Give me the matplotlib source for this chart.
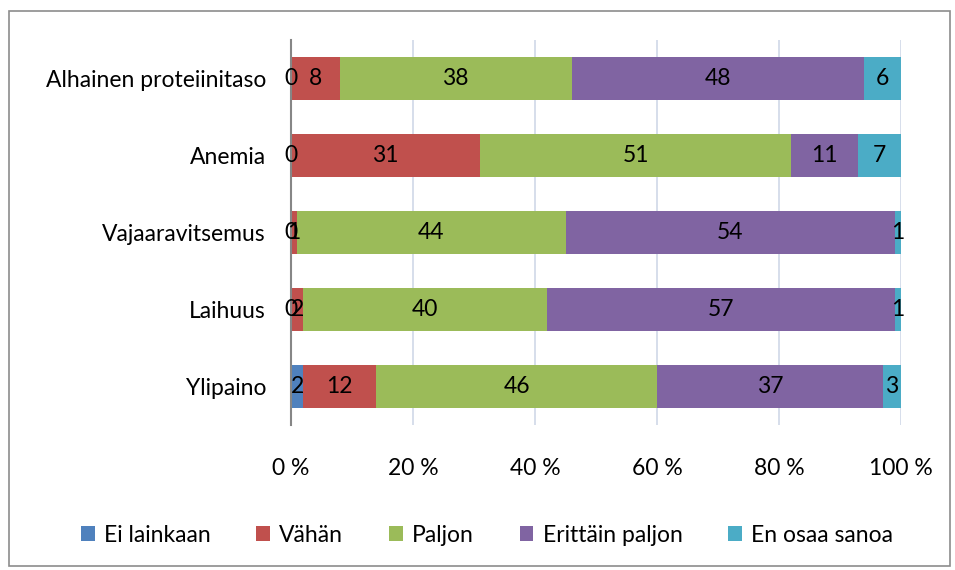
import matplotlib
matplotlib.use("Agg")
import matplotlib.pyplot as plt
from matplotlib.patches import Rectangle
import numpy as np

categories = ["Alhainen proteiinitaso", "Anemia", "Vajaaravitsemus", "Laihuus", "Ylipaino"]
series = ["Ei lainkaan", "Vähän", "Paljon", "Erittäin paljon", "En osaa sanoa"]
ei_lainkaan = [0, 0, 0, 0, 2]
vahan = [8, 31, 1, 2, 12]
paljon = [38, 51, 44, 40, 46]
erittain = [48, 11, 54, 57, 37]
en_osaa = [6, 7, 1, 1, 3]
xticks = [0, 20, 40, 60, 80, 100]

colors = ["#4F81BD", "#C0504D", "#9BBB59", "#8064A2", "#4BACC6"]

plt.rcParams["font.family"] = ["Lato", "DejaVu Sans"]
FS = 16.5

fig = plt.figure(figsize=(9.55, 5.7), dpi=100)
# outer chart border
fig.patches.append(Rectangle((9 / 955, 4 / 570), 941 / 955, 555 / 570,
                             transform=fig.transFigure, fill=False,
                             edgecolor="#8C8C8C", linewidth=1.2))
ax = fig.add_axes([291 / 955, 1 - 425 / 570, 610 / 955, 385 / 570])

data = np.array([ei_lainkaan, vahan, paljon, erittain, en_osaa], dtype=float)
y = np.arange(len(categories))[::-1]
left = np.zeros(len(categories))
for vals, name, col in zip(data, series, colors):
    ax.barh(y, vals, left=left, height=0.57, color=col, label=name, zorder=3)
    for yi, l, v in zip(y, left, vals):
        ax.text(l + v / 2, yi, f"{int(v)}", ha="center", va="center",
                fontsize=FS, color="black", zorder=5)
    left += vals

ax.set_xlim(0, 100)
ax.set_ylim(-0.5, len(categories) - 0.5)
ax.set_xticks(xticks)
ax.set_xticklabels([f"{t} %" for t in xticks], fontsize=FS)
ax.set_yticks(y)
ax.set_yticklabels(categories, fontsize=FS)
ax.tick_params(length=0)
ax.tick_params(axis="y", pad=18)
ax.tick_params(axis="x", pad=24)
ax.grid(axis="x", color="#D0D8E8", linewidth=1.2, zorder=0)
for s in ["top", "right", "bottom"]:
    ax.spines[s].set_visible(False)
ax.spines["left"].set_color("#868686")
ax.spines["left"].set_linewidth(1.5)
ax.spines["left"].set_zorder(4)

ax.legend(loc="center", bbox_to_anchor=(0.51, 1 - 535 / 570),
          bbox_transform=fig.transFigure, ncol=5, frameon=False,
          fontsize=FS, handlelength=0.6, handleheight=0.6,
          handletextpad=0.4, columnspacing=2.0)

fig.savefig("out.png", dpi=100)
